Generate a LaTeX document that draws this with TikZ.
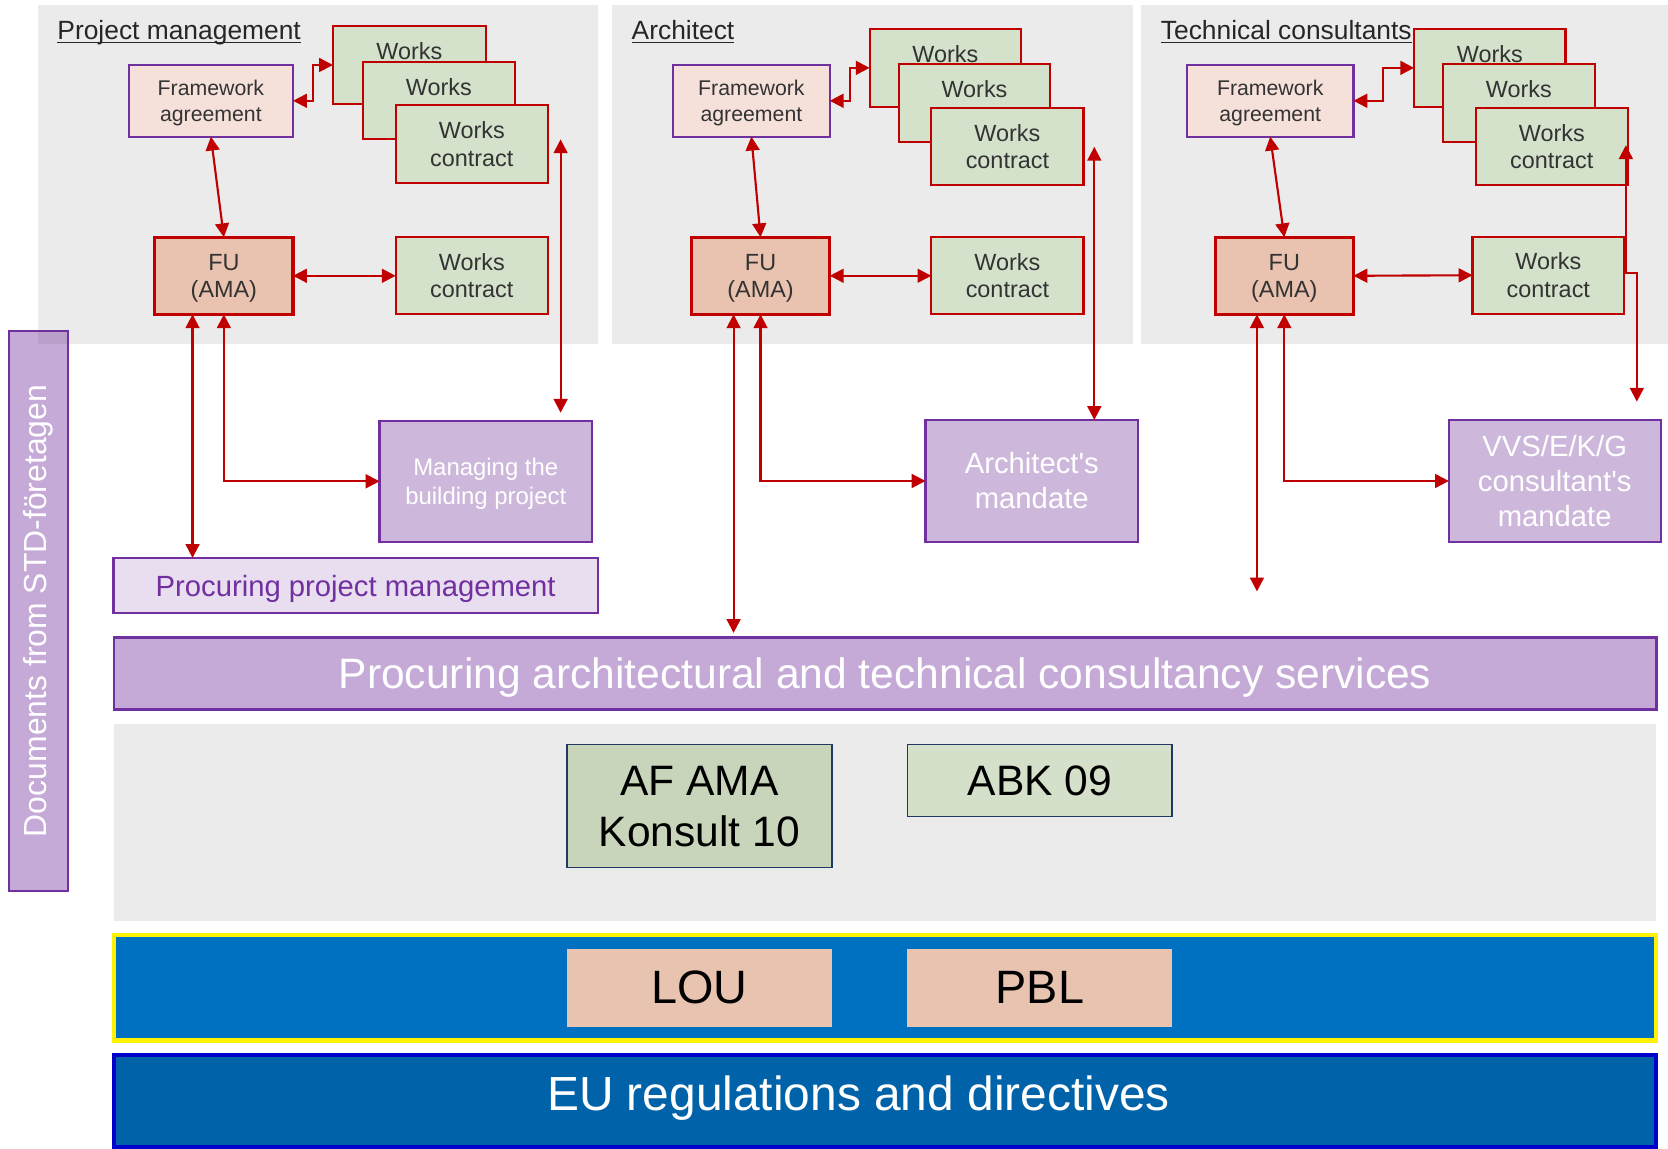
\documentclass[tikz,border=0pt]{standalone}
\usepackage{fontspec}
\setmainfont{Liberation Sans}[Ligatures=TeXOff]
\usetikzlibrary{arrows.meta,calc}
\definecolor{pgray}{HTML}{EBEBEB}
\definecolor{fafill}{HTML}{F5E1DA}
\definecolor{purp}{HTML}{7030A0}
\definecolor{wgreen}{HTML}{D4E1CB}
\definecolor{wred}{HTML}{C00000}
\definecolor{fufill}{HTML}{E9C3AF}
\definecolor{mfill}{HTML}{CDB8DC}
\definecolor{ppmfill}{HTML}{E9DDF0}
\definecolor{pafill}{HTML}{C5AAD8}
\definecolor{olap}{HTML}{B8A0CA}
\definecolor{afill}{HTML}{C8D5BB}
\definecolor{abkfill}{HTML}{D4E0CA}
\definecolor{navy}{HTML}{1F3864}
\definecolor{lawfill}{HTML}{E8C3AF}
\definecolor{lawblue}{HTML}{0070C0}
\definecolor{eufill}{HTML}{0062A8}
\definecolor{eubord}{HTML}{0000CC}
\definecolor{dtext}{HTML}{333333}
\definecolor{ttext}{HTML}{262626}
\newcommand\mkbox[7]{%
  \node[#6, minimum width={(#4-#2)*0.5pt}, minimum height={(#5-#3)*0.5pt}] (#1) at ({(#2+#4)/2},{(#3+#5)/2}) {#7};}
\tikzset{
  every node/.style={inner sep=0pt, outer sep=0pt, align=center},
  panel/.style={fill=pgray},
  fabox/.style={fill=fafill, draw=purp, line width=1pt, text=dtext, text depth=0pt, font=\fontsize{10}{12.2}\selectfont},
  wkbox/.style={fill=wgreen, draw=wred, line width=1pt, text=dtext, font=\fontsize{11}{13}\selectfont},
  fubox/.style={fill=fufill, draw=wred, line width=1.5pt, text=dtext, text depth=0pt, font=\fontsize{11}{13}\selectfont},
  mandbox/.style={fill=mfill, draw=purp, line width=1pt, text=white, font=\fontsize{13.75}{16.5}\selectfont},
  conn/.style={draw=wred, line width=1pt, {Triangle[length=6.5pt,width=6.5pt]}-{Triangle[length=6.5pt,width=6.5pt]}},
  ttl/.style={anchor=base west, text=ttext, font=\fontsize{12.4}{15}\selectfont},
  uline/.style={draw=ttext, line width=0.6pt},
  docbox/.style={draw=purp, fill=pafill, line width=1pt},
  refbox/.style={draw=navy, line width=0.8pt, text=black, font=\fontsize{20}{24}\selectfont},
  lawbox/.style={fill=lawfill, text=black, font=\fontsize{22}{26}\selectfont},
}
\begin{document}
\begin{tikzpicture}[x=0.5pt,y=-0.5pt]
\useasboundingbox (0,0) rectangle (1568,1080);
% panels
\mkbox{p1}{36}{5}{562}{323}{panel}{}
\mkbox{p2}{575}{5}{1065}{323}{panel}{}
\mkbox{p3}{1073}{5}{1568}{323}{panel}{}
% document bar
\mkbox{doc}{8.2}{311}{64}{837.6}{docbox}{}
\fill[olap] (36,312) rectangle (63.2,323.5);
\node[rotate=90, text=white, font=\fontsize{15}{18}\selectfont] (doct) at (doc.center) {Documents from STD-företagen};
% titles
\node[ttl] (t1) at (54,37.6) {Project management};
\node[ttl] (t2) at (593.8,37.6) {Architect};
\node[ttl] (t3) at (1091.3,37.6) {Technical consultants};
\draw[uline] ($(t1.base west)+(0,2.3)$) -- ($(t1.base east)+(0,2.3)$);
\draw[uline] ($(t2.base west)+(0,2.3)$) -- ($(t2.base east)+(0,2.3)$);
\draw[uline] ($(t3.base west)+(0,2.3)$) -- ($(t3.base east)+(0,2.3)$);
% panel 1
\mkbox{fa1}{121}{61}{275.5}{128.5}{fabox}{Framework\\agreement}
\mkbox{wa1}{313}{24.4}{456.7}{97.8}{wkbox}{Works\\\phantom{contract}}
\mkbox{wb1}{341}{58}{484}{131}{wkbox}{Works\\\phantom{contract}}
\mkbox{wc1}{372}{99}{515}{171.7}{wkbox}{Works\\contract}
\mkbox{fu1}{145.4}{223}{275.5}{295.5}{fubox}{FU\\(AMA)}
\mkbox{wd1}{372}{223}{515}{295.5}{wkbox}{Works\\contract}
\mkbox{mg}{356.8}{395.4}{556.5}{509.5}{mandbox, text depth=0pt, font=\fontsize{11.25}{13.3}\selectfont}{Managing the\\building project}
\mkbox{ppm}{106.7}{524.5}{562}{576.5}{fill=ppmfill, draw=purp, line width=1pt, text=purp, text depth=0pt, font=\fontsize{13.75}{16}\selectfont}{Procuring project management}
% panel 2
\mkbox{fa2}{632.7}{61}{780}{128.5}{fabox}{Framework\\agreement}
\mkbox{wa2}{817.5}{27.3}{959.8}{100.3}{wkbox}{Works\\\phantom{contract}}
\mkbox{wb2}{844.7}{60.2}{987.4}{133.2}{wkbox}{Works\\\phantom{contract}}
\mkbox{wc2}{875.5}{101.5}{1018.5}{174.2}{wkbox}{Works\\contract}
\mkbox{fu2}{649.9}{223}{780}{295.5}{fubox}{FU\\(AMA)}
\mkbox{wd2}{875.5}{223}{1018.5}{295.5}{wkbox}{Works\\contract}
\mkbox{am}{870}{394.8}{1069.8}{509.5}{mandbox}{Architect's\\mandate}
% panel 3
\mkbox{fa3}{1115.8}{61}{1272.3}{128.5}{fabox}{Framework\\agreement}
\mkbox{wa3}{1329.3}{27.3}{1471.6}{100.3}{wkbox}{Works\\\phantom{contract}}
\mkbox{wb3}{1356.5}{60.2}{1499}{133.2}{wkbox}{Works\\\phantom{contract}}
\mkbox{wc3}{1387.5}{101.5}{1530}{174.2}{wkbox}{Works\\contract}
\mkbox{fu3}{1142.3}{223}{1272.3}{295.5}{fubox}{FU\\(AMA)}
\mkbox{wd3}{1384.2}{222.5}{1526.8}{295}{wkbox}{Works\\contract}
\mkbox{vv}{1362}{394.8}{1561}{509.5}{mandbox}{VVS/E/K/G\\consultant's\\mandate}
% bottom layers
\mkbox{pa}{107}{599.3}{1557}{666.9}{fill=pafill, draw=purp, line width=1.2pt, text=white, text depth=0pt, font=\fontsize{20}{24}\selectfont}{Procuring architectural and technical consultancy services}
\mkbox{docs}{107}{680.6}{1557}{865.4}{panel}{}
\mkbox{afa}{533}{700}{782}{815.6}{refbox, fill=afill}{AF AMA\\Konsult 10}
\mkbox{abk}{853}{700}{1102}{767.5}{refbox, fill=abkfill}{ABK 09}
\mkbox{law}{107}{879}{1557}{978}{fill=lawblue, draw=yellow, line width=2pt}{}
\mkbox{lou}{533}{892}{782}{965}{lawbox}{LOU}
\mkbox{pbl}{853}{892}{1102}{965}{lawbox}{PBL}
\mkbox{eu}{107}{992}{1557}{1078}{fill=eufill, draw=eubord, line width=2pt}{}
\node[text=white, font=\fontsize{22.5}{27}\selectfont] (eut) at ($(eu.center)+(-25,-3)$) {EU regulations and directives};
% connectors panel 1
\draw[conn] (fa1.east) -- ($(fa1.east)+(18.5,0)$) |- (wa1.west);
\draw[conn] (fa1.south) -- (fu1.north);
\draw[conn] (fu1.east) -- (wd1.west);
\coordinate (c1t) at (527,131);
\coordinate (c1b) at (527,388);
\draw[conn] (c1t) -- (c1b);
\coordinate (l1) at (181,0);
\draw[conn] (l1 |- fu1.south) -- (l1 |- ppm.north);
\draw[conn] (fu1.south) |- (mg.west);
% connectors panel 2
\draw[conn] (fa2.east) -- ($(fa2.east)+(19.3,0)$) |- (wa2.west);
\draw[conn] (fa2.south) -- (fu2.north);
\draw[conn] (fu2.east) -- (wd2.west);
\coordinate (c2t) at (1028.7,138);
\draw[conn] (c2t) -- (c2t |- am.north);
\coordinate (l2) at (689.6,595);
\draw[conn] (l2 |- fu2.south) -- (l2);
\draw[conn] (fu2.south) |- (am.west);
% connectors panel 3
\draw[conn] (fa3.east) -- ($(fa3.east)+(28,0)$) |- (wa3.west);
\draw[conn] (fa3.south) -- (fu3.north);
\draw[conn] (fu3.east) -- (wd3.west);
\coordinate (c3t) at (1528.4,136.5);
\coordinate (c3m) at (1538.7,257);
\coordinate (c3b) at (1538.7,377.6);
\draw[conn] (c3t) |- (c3m) -- (c3b);
\coordinate (l3) at (1181.6,556);
\draw[conn] (l3 |- fu3.south) -- (l3);
\draw[conn] (fu3.south) |- (vv.west);
\end{tikzpicture}
\end{document}
